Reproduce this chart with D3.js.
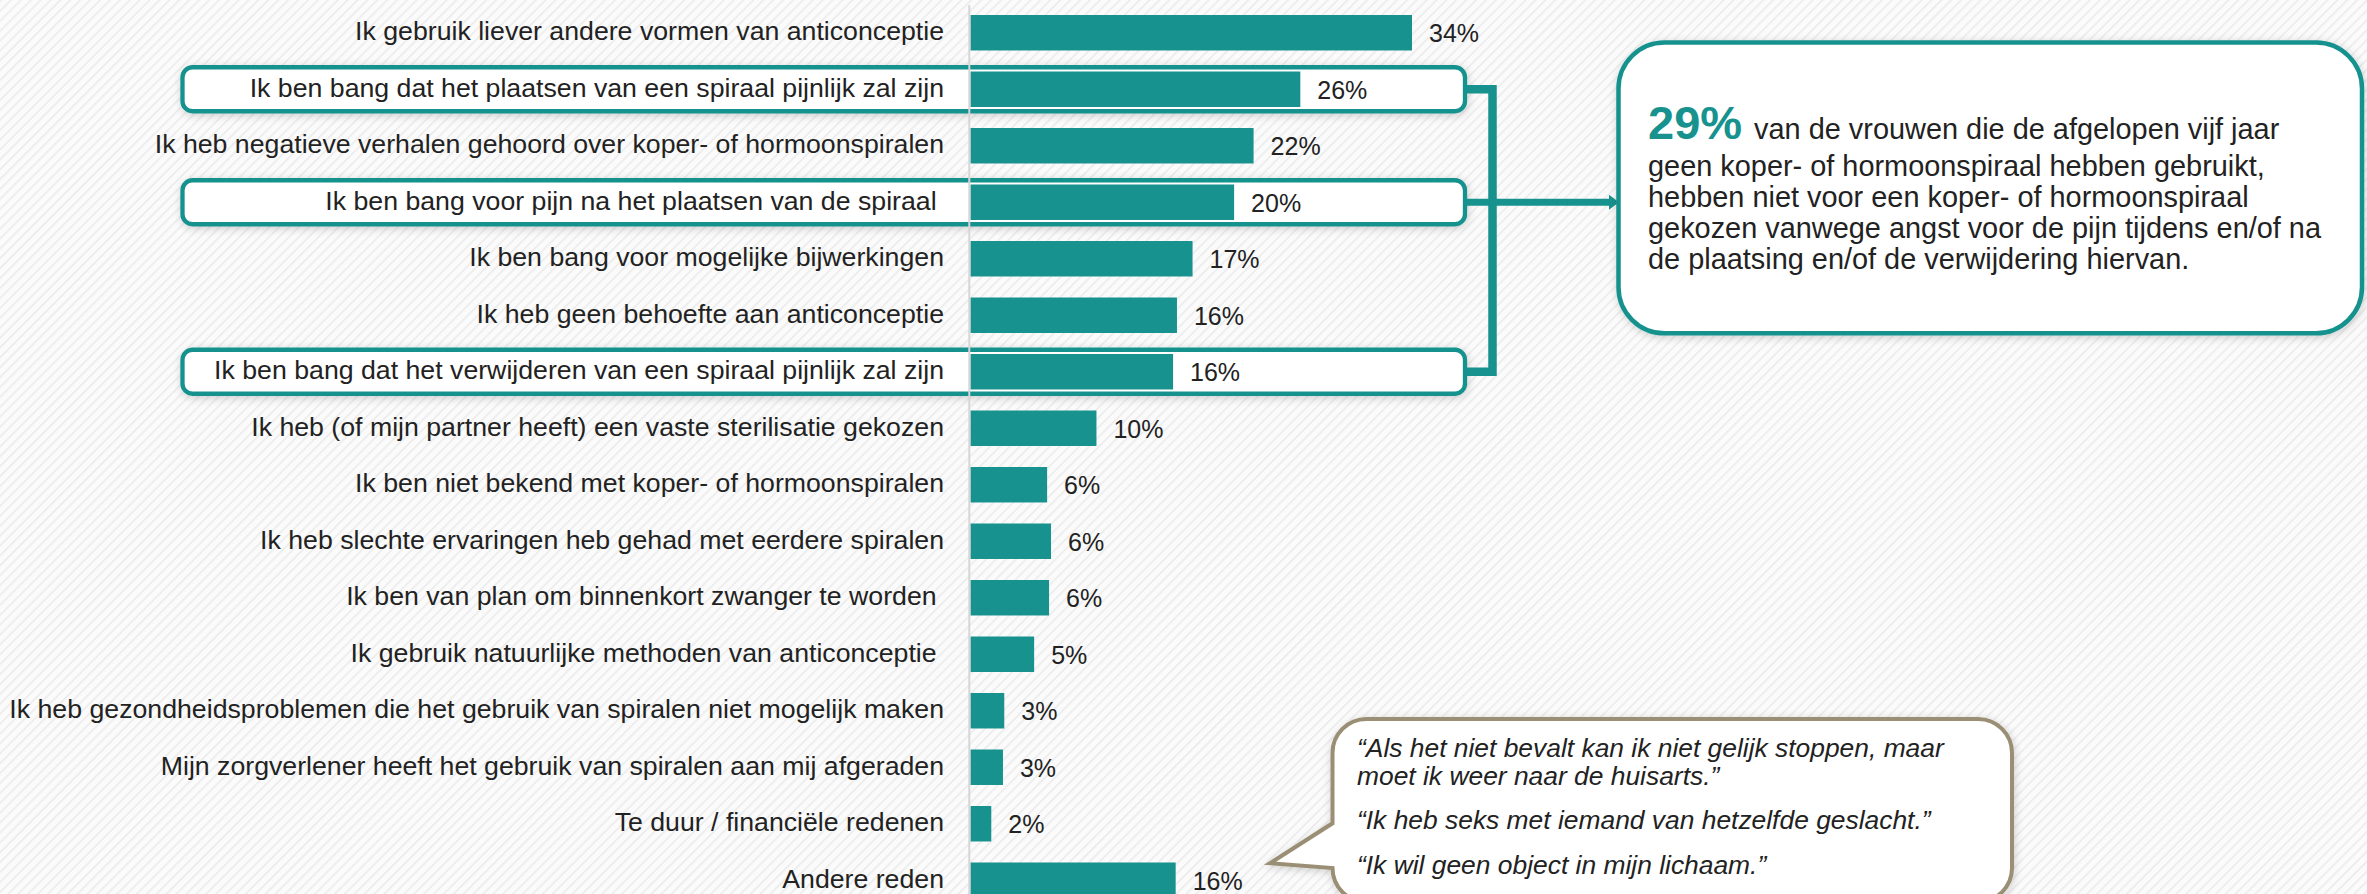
<!DOCTYPE html>
<html>
<head>
<meta charset="utf-8">
<script src="https://cdn.jsdelivr.net/npm/d3@7"></script>
<style>
  html, body { margin: 0; padding: 0; background: #fbfbfb; }
  svg { display: block; }
  text { font-family: "Liberation Sans", Arial, sans-serif; white-space: pre; }
</style>
</head>
<body>
<script>
// ---------- data ----------
const categories = [
  "Ik gebruik liever andere vormen van anticonceptie",
  "Ik ben bang dat het plaatsen van een spiraal pijnlijk zal zijn",
  "Ik heb negatieve verhalen gehoord over koper- of hormoonspiralen",
  "Ik ben bang voor pijn na het plaatsen van de spiraal ",
  "Ik ben bang voor mogelijke bijwerkingen",
  "Ik heb geen behoefte aan anticonceptie",
  "Ik ben bang dat het verwijderen van een spiraal pijnlijk zal zijn",
  "Ik heb (of mijn partner heeft) een vaste sterilisatie gekozen",
  "Ik ben niet bekend met koper- of hormoonspiralen",
  "Ik heb slechte ervaringen heb gehad met eerdere spiralen",
  "Ik ben van plan om binnenkort zwanger te worden ",
  "Ik gebruik natuurlijke methoden van anticonceptie ",
  "Ik heb gezondheidsproblemen die het gebruik van spiralen niet mogelijk maken",
  "Mijn zorgverlener heeft het gebruik van spiralen aan mij afgeraden",
  "Te duur / financiële redenen",
  "Andere reden"
];
const values = [34.0, 25.4, 21.8, 20.3, 17.1, 15.9, 15.6, 9.7, 5.9, 6.2, 6.05, 4.9, 2.6, 2.5, 1.6, 15.8];
const valueLabels = ["34%", "26%", "22%", "20%", "17%", "16%", "16%", "10%", "6%", "6%", "6%", "5%", "3%", "3%", "2%", "16%"];
const highlighted = [1, 3, 6];
const calloutBig = "29%";
const calloutLines = [
  " van de vrouwen die de afgelopen vijf jaar",
  "geen koper- of hormoonspiraal hebben gebruikt,",
  "hebben niet voor een koper- of hormoonspiraal",
  "gekozen vanwege angst voor de pijn tijdens en/of na",
  "de plaatsing en/of de verwijdering hiervan."
];
const quotes = [
  ["\u201CAls het niet bevalt kan ik niet gelijk stoppen, maar", "moet ik weer naar de huisarts.\u201D"],
  ["\u201CIk heb seks met iemand van hetzelfde geslacht.\u201D"],
  ["\u201CIk wil geen object in mijn lichaam.\u201D"]
];

// ---------- setup ----------
const W = 2367, H = 894;
const teal = "#17928e";
const textCol = "#222222";
const svg = d3.select("body").append("svg").attr("width", W).attr("height", H);
const defs = svg.append("defs");

const pat = defs.append("pattern").attr("id", "hatch")
  .attr("patternUnits", "userSpaceOnUse").attr("width", 7).attr("height", 7)
  .attr("patternTransform", "rotate(45)");
pat.append("rect").attr("width", 7).attr("height", 7).attr("fill", "#fbfbfb");
pat.append("rect").attr("width", 1.6).attr("height", 7).attr("fill", "#ebebeb");

const sh = defs.append("filter").attr("id", "shadow")
  .attr("x", "-10%").attr("y", "-30%").attr("width", "120%").attr("height", "160%");
sh.append("feDropShadow").attr("dx", 1).attr("dy", 2).attr("stdDeviation", 4)
  .attr("flood-color", "#000").attr("flood-opacity", 0.18);

svg.append("rect").attr("width", W).attr("height", H).attr("fill", "url(#hatch)");

// ---------- scales ----------
const x = d3.scaleLinear().domain([0, 34]).range([970.5, 1412]);
const step = 56.5;
const y = d3.scaleBand().domain(categories)
  .range([15 - 0.186 * step, 15 - 0.186 * step + categories.length * step])
  .paddingInner(0.372).paddingOuter(0.186);
const yc = i => y(categories[i]) + y.bandwidth() / 2;

// ---------- highlight boxes ----------
svg.append("g").selectAll("rect").data(highlighted).join("rect")
  .attr("x", 182.5).attr("width", 1465 - 182.5)
  .attr("y", i => yc(i) - 22).attr("height", 44)
  .attr("rx", 10).attr("ry", 10)
  .attr("fill", "#fff").attr("stroke", teal).attr("stroke-width", 4.3)
  .attr("filter", "url(#shadow)");

// ---------- bars ----------
svg.append("g").selectAll("rect").data(values).join("rect")
  .attr("x", x(0)).attr("y", (d, i) => y(categories[i]))
  .attr("width", d => x(d) - x(0)).attr("height", y.bandwidth())
  .attr("fill", teal);

// axis line
svg.append("line").attr("x1", x(0) - 1.2).attr("x2", x(0) - 1.2)
  .attr("y1", 5).attr("y2", H).attr("stroke", "#d6d6d6").attr("stroke-width", 2);

// category labels
svg.append("g").selectAll("text").data(categories).join("text")
  .attr("x", 944).attr("y", (d, i) => yc(i) + 7.5)
  .attr("text-anchor", "end").attr("font-size", 26.7).attr("fill", textCol)
  .text(d => d);

// value labels
svg.append("g").selectAll("text").data(values).join("text")
  .attr("x", d => x(d) + 17).attr("y", (d, i) => yc(i) + 9.5)
  .attr("font-size", 25).attr("fill", textCol)
  .text((d, i) => valueLabels[i]);

// ---------- bracket + arrow ----------
const boxRight = 1467;
const bx = 1492.5;
svg.append("path")
  .attr("d", `M${boxRight},${yc(highlighted[0])} H${bx} V${yc(highlighted[2])} H${boxRight}`)
  .attr("fill", "none").attr("stroke", teal).attr("stroke-width", 8.5)
  .attr("stroke-linejoin", "miter");
const ay = yc(highlighted[1]);
svg.append("path").attr("d", `M${boxRight},${ay} H1611`)
  .attr("stroke", teal).attr("stroke-width", 7).attr("fill", "none");
svg.append("path").attr("d", `M1609,${ay - 7.5} L1619,${ay} L1609,${ay + 7.5} Z`)
  .attr("fill", teal);

// ---------- callout box ----------
svg.append("rect").attr("x", 1618.5).attr("y", 42.5)
  .attr("width", 2362 - 1618.5).attr("height", 333.3 - 42.5)
  .attr("rx", 46).attr("ry", 46)
  .attr("fill", "#fff").attr("stroke", teal).attr("stroke-width", 4.5)
  .attr("filter", "url(#shadow)");
const ct = svg.append("text").attr("x", 1648).attr("y", 139.3)
  .attr("font-size", 28.9).attr("fill", textCol);
ct.append("tspan").attr("font-size", 47).attr("font-weight", "bold").attr("fill", teal).text(calloutBig);
ct.append("tspan").attr("dx", 4).text(calloutLines[0]);
const lineYs = [175.5, 206.5, 237.5, 268.5];
svg.append("g").selectAll("text").data(calloutLines.slice(1)).join("text")
  .attr("x", 1648).attr("y", (d, i) => lineYs[i])
  .attr("font-size", 28.9).attr("fill", textCol).text(d => d);

// ---------- quote bubble ----------
const q0 = 1332.5, q1 = 2012, qt = 719, qb = 902, qr = 34;
const bubblePath = `M${q0 + qr},${qt} H${q1 - qr} A${qr},${qr} 0 0 1 ${q1},${qt + qr}
  V${qb - qr} A${qr},${qr} 0 0 1 ${q1 - qr},${qb} H${q0 + qr} A${qr},${qr} 0 0 1 ${q0},${qb - qr}
  L1270,863.3 L${q0},823.3 V${qt + qr} A${qr},${qr} 0 0 1 ${q0 + qr},${qt} Z`;
svg.append("path").attr("d", bubblePath)
  .attr("fill", "#fff").attr("stroke", "#9a8f74").attr("stroke-width", 4)
  .attr("stroke-linejoin", "miter").attr("filter", "url(#shadow)");

const quoteLineY = [[756.7, 785], [829.3], [874]];
const qg = svg.append("g");
quotes.forEach((q, qi) => {
  q.forEach((line, li) => {
    qg.append("text").attr("x", 1357).attr("y", quoteLineY[qi][li])
      .attr("font-size", 26.4).attr("font-style", "italic").attr("fill", textCol)
      .text(line);
  });
});
</script>
</body>
</html>
